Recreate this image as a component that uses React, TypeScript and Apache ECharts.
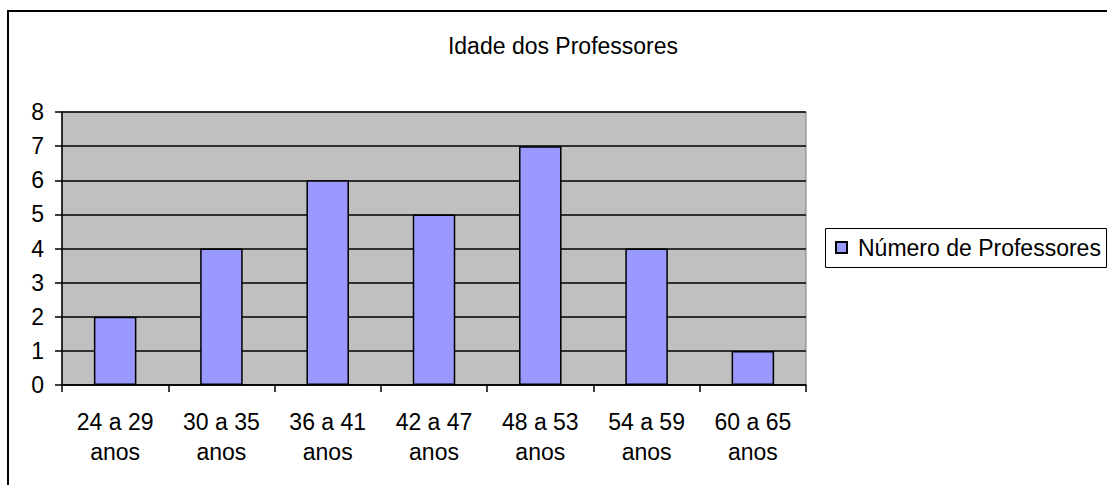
import React, { useEffect, useRef } from "react";
import * as echarts from "echarts";

const title = "Idade dos Professores";
const categories = [
  "24 a 29\nanos",
  "30 a 35\nanos",
  "36 a 41\nanos",
  "42 a 47\nanos",
  "48 a 53\nanos",
  "54 a 59\nanos",
  "60 a 65\nanos",
];
const seriesName = "Número de Professores";
const values = [2, 4, 6, 5, 7, 4, 1];
const yMin = 0;
const yMax = 8;
const yInterval = 1;

const FONT = "Arial, 'Liberation Sans', sans-serif";

export default function App() {
  const ref = useRef<HTMLDivElement>(null);
  useEffect(() => {
    if (!ref.current) return;
    const chart = echarts.init(ref.current, undefined, { renderer: "svg" });
    chart.setOption({
      animation: false,
      backgroundColor: "#ffffff",
      title: {
        text: title,
        left: 558,
        textAlign: "center",
        top: 29,
        textStyle: { fontFamily: FONT, fontSize: 23, fontWeight: "normal", color: "#000" },
      },
      grid: {
        left: 62,
        right: 301,
        top: 112,
        bottom: 100,
        show: true,
        backgroundColor: "#C0C0C0",
        borderColor: "#808080",
        borderWidth: 1,
      },
      legend: {
        data: [seriesName],
        left: 835,
        top: 236,
        icon: "rect",
        itemWidth: 11,
        itemHeight: 11,
        itemGap: 0,
        padding: 0,
        textStyle: { fontFamily: FONT, fontSize: 23, color: "#000", padding: [0, 0, 0, 6] },
      },
      xAxis: {
        type: "category",
        data: categories,
        boundaryGap: true,
        axisLine: { lineStyle: { color: "#000", width: 1.5 } },
        axisTick: { show: true, length: 7, alignWithLabel: false, lineStyle: { color: "#000", width: 1.5 } },
        axisLabel: {
          fontFamily: FONT,
          fontSize: 23,
          color: "#000",
          lineHeight: 30,
          margin: 22,
          interval: 0,
        },
        splitLine: { show: false },
      },
      yAxis: {
        type: "value",
        min: yMin,
        max: yMax,
        interval: yInterval,
        axisLine: { show: true, lineStyle: { color: "#000", width: 1.5 } },
        axisTick: { show: true, length: 7, lineStyle: { color: "#000", width: 1.5 } },
        axisLabel: { fontFamily: FONT, fontSize: 23, color: "#000", margin: 18 },
        splitLine: { show: true, lineStyle: { color: "#000", width: 1.5 } },
      },
      series: [
        {
          name: seriesName,
          type: "bar",
          data: values,
          barWidth: "40%",
          itemStyle: { color: "#9999FF", borderColor: "#000", borderWidth: 1.5 },
        },
      ],
      graphic: [
        {
          type: "rect",
          shape: { x: 8, y: 11, width: 1110, height: 485 },
          style: { fill: "none", stroke: "#000", lineWidth: 2 },
          silent: true,
          z: 100,
        },
        {
          type: "rect",
          shape: { x: 825.5, y: 228.5, width: 281, height: 39 },
          style: { fill: "none", stroke: "#000", lineWidth: 1 },
          silent: true,
          z: 100,
        },
      ],
    });
    return () => chart.dispose();
  }, []);
  return (
    <div
      ref={ref}
      style={{ position: "absolute", left: 0, top: 0, width: 1107, height: 485 }}
    />
  );
}
